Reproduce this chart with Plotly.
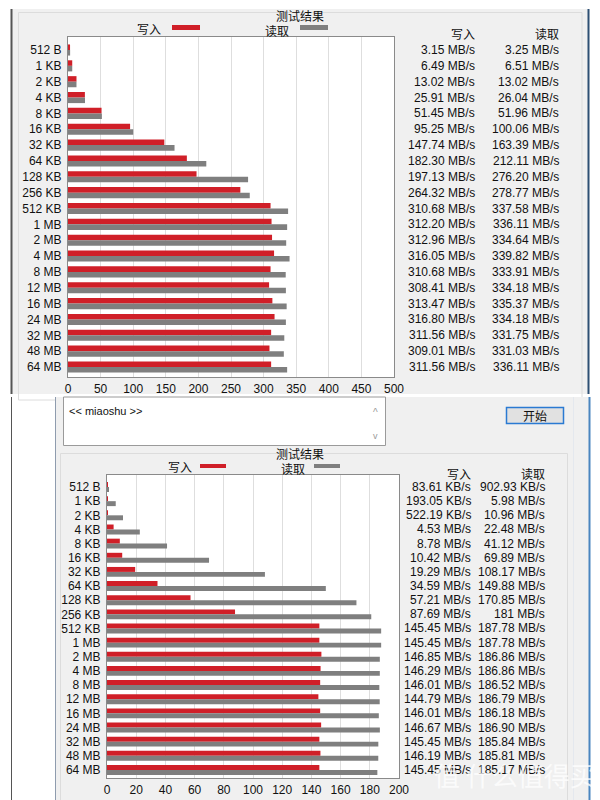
import plotly.graph_objects as go

# ---------------- data ----------------
sizes = ["512 B", "1 KB", "2 KB", "4 KB", "8 KB", "16 KB", "32 KB", "64 KB", "128 KB", "256 KB",
         "512 KB", "1 MB", "2 MB", "4 MB", "8 MB", "12 MB", "16 MB", "24 MB", "32 MB", "48 MB", "64 MB"]

# top test (MB/s)
top_write = [3.15, 6.49, 13.02, 25.91, 51.45, 95.25, 147.74, 182.30, 197.13, 264.32,
             310.68, 312.20, 312.96, 316.05, 310.68, 308.41, 313.47, 316.80, 311.56, 309.01, 311.56]
top_read = [3.25, 6.51, 13.02, 26.04, 51.96, 100.06, 163.39, 212.11, 276.20, 278.77,
            337.58, 336.11, 334.64, 339.82, 333.91, 334.18, 335.37, 334.18, 331.75, 331.03, 336.11]

# bottom test (MB/s)
bot_write = [0.082, 0.189, 0.510, 4.53, 8.78, 10.42, 19.29, 34.59, 57.21, 87.69,
             145.45, 145.45, 146.85, 146.29, 146.01, 144.79, 146.01, 146.67, 145.45, 146.19, 145.45]
bot_read = [0.882, 5.98, 10.96, 22.48, 41.12, 69.89, 108.17, 149.88, 170.85, 181.00,
            187.78, 187.78, 186.86, 186.86, 186.52, 186.79, 186.18, 186.90, 185.84, 185.81, 185.17]

bot_write_labels = ["83.61 KB/s", "193.05 KB/s", "522.19 KB/s", "4.53 MB/s", "8.78 MB/s", "10.42 MB/s",
                    "19.29 MB/s", "34.59 MB/s", "57.21 MB/s", "87.69 MB/s", "145.45 MB/s", "145.45 MB/s",
                    "146.85 MB/s", "146.29 MB/s", "146.01 MB/s", "144.79 MB/s", "146.01 MB/s", "146.67 MB/s",
                    "145.45 MB/s", "146.19 MB/s", "145.45 MB/s"]
bot_read_labels = ["902.93 KB/s", "5.98 MB/s", "10.96 MB/s", "22.48 MB/s", "41.12 MB/s", "69.89 MB/s",
                   "108.17 MB/s", "149.88 MB/s", "170.85 MB/s", "181 MB/s", "187.78 MB/s", "187.78 MB/s",
                   "186.86 MB/s", "186.86 MB/s", "186.52 MB/s", "186.79 MB/s", "186.18 MB/s", "186.90 MB/s",
                   "185.84 MB/s", "185.81 MB/s", "185.17 MB/s"]

# ---------------- styling ----------------
W, H = 600, 800
RED = "#d01f28"
GREY = "#7f7f7f"
PANEL = "#f0f0f0"
FONT = "Liberation Sans"
CJK = "Noto Sans CJK SC"


def px(x):
    return x / W


def py(y):
    return 1 - y / H


fig = go.Figure()
fig.add_bar(y=sizes, x=top_write, orientation="h", marker=dict(color=RED, line=dict(width=0)),
            xaxis="x", yaxis="y", name="写入", hoverinfo="x+y")
fig.add_bar(y=sizes, x=top_read, orientation="h", marker=dict(color=GREY, line=dict(width=0)),
            xaxis="x", yaxis="y", name="读取", hoverinfo="x+y")
fig.add_bar(y=sizes, x=bot_write, orientation="h", marker=dict(color=RED, line=dict(width=0)),
            xaxis="x2", yaxis="y2", name="写入", hoverinfo="x+y")
fig.add_bar(y=sizes, x=bot_read, orientation="h", marker=dict(color=GREY, line=dict(width=0)),
            xaxis="x2", yaxis="y2", name="读取", hoverinfo="x+y")

axis_common = dict(showline=True, mirror=True, linecolor="#8a8a8a", linewidth=1, zeroline=False,
                   automargin=False,
                   tickfont=dict(family=FONT, size=12, color="#111"), fixedrange=True)

fig.update_layout(
    width=W, height=H, margin=dict(l=0, r=0, t=0, b=0, autoexpand=False),
    paper_bgcolor="white", plot_bgcolor="white", showlegend=False,
    barmode="group", bargap=0.3, bargroupgap=0,
    xaxis=dict(domain=[px(68), px(394)], range=[0, 500], dtick=50, showgrid=True, gridcolor="#dedede",
               anchor="y", ticks="outside", ticklen=1, tickcolor="rgba(0,0,0,0)", **axis_common),
    yaxis=dict(domain=[py(377), py(37)], type="category", range=[20.63, -0.82], showgrid=False,
               anchor="x", ticks="outside", ticklen=3, tickcolor="rgba(0,0,0,0)", **axis_common),
    xaxis2=dict(domain=[px(107), px(399)], range=[0, 200], dtick=20, showgrid=True, gridcolor="#dedede",
                anchor="y2", ticks="outside", ticklen=1, tickcolor="rgba(0,0,0,0)", **axis_common),
    yaxis2=dict(domain=[py(778), py(475)], type="category", range=[20.57, -0.85], showgrid=False,
                anchor="x2", ticks="outside", ticklen=3, tickcolor="rgba(0,0,0,0)", **axis_common),
)

shapes = []


def rect(x0, y0, x1, y1, fill, line_color=None, lw=0, layer="below"):
    shapes.append(dict(type="rect", xref="paper", yref="paper", x0=px(x0), x1=px(x1), y0=py(y1), y1=py(y0),
                       fillcolor=fill, line=dict(color=line_color or "rgba(0,0,0,0)", width=lw), layer=layer))


def vline(x, y0, y1, color, lw=1):
    shapes.append(dict(type="line", xref="paper", yref="paper", x0=px(x), x1=px(x), y0=py(y1), y1=py(y0),
                       line=dict(color=color, width=lw), layer="below"))


# top window panel
rect(12, 9, 588, 394, PANEL)
vline(11.5, 9, 394, "#555555", 2)
vline(588.5, 9, 394, "#2d4f73", 2)
rect(18.5, 12.5, 582, 400, "rgba(0,0,0,0)", "#dcdcdc", 1)
# bottom window panel
rect(55, 397, 590, 800, PANEL)
vline(11.5, 397, 800, "#555555", 1)
vline(55.5, 397, 800, "#8f9cae", 1)
vline(573.5, 397, 800, "#e4e8ee", 1)
vline(589.5, 397, 800, "#4a86c0", 2)
# text box
rect(63.5, 397, 385.5, 445.5, "white", "#9a9a9a", 1)
# button
rect(506.5, 407.5, 563.5, 423.5, "#e1e1e1", "#2a7ad2", 1.5)
# bottom group box
rect(60.5, 453.5, 567.5, 805, "rgba(0,0,0,0)", "#dcdcdc", 1)
# white plot areas
rect(68, 37, 394, 377, "white")
rect(107, 475, 399, 778, "white")
# legend swatches
rect(172, 25, 200, 30, RED, layer="above")
rect(300, 25, 328, 30, GREY, layer="above")
rect(200, 464, 226, 468, RED, layer="above")
rect(314, 464, 340, 468, GREY, layer="above")
fig.update_layout(shapes=shapes)

ann = []


def txt(x, y, t, size=12, family=FONT, anchor="center", color="#111", yanchor="middle"):
    ann.append(dict(x=px(x), y=py(y), xref="paper", yref="paper", text=t, showarrow=False,
                    xanchor=anchor, yanchor=yanchor, font=dict(family=family, size=size, color=color)))


# top headings / legend
txt(300, 15, "测试结果", family=CJK)
txt(149, 28, "写入", family=CJK)
txt(277, 31, "读取", family=CJK)
txt(477, 33, "写入", family=CJK, anchor="right")
txt(561, 33, "读取", family=CJK, anchor="right")
# bottom headings / legend
txt(300, 453, "测试结果", family=CJK)
txt(180, 466, "写入", family=CJK)
txt(293, 468, "读取", family=CJK)
txt(473, 473, "写入", family=CJK, anchor="right")
txt(547, 473, "读取", family=CJK, anchor="right")
txt(67, 411, "&lt;&lt; miaoshu &gt;&gt;", size=11, anchor="left")
txt(375, 412, "^", size=10, color="#9a9a9a")
txt(375, 436, "v", size=9, color="#9a9a9a")
txt(535, 415, "开始", family=CJK)

# value columns
for i, s in enumerate(sizes):
    ann.append(dict(x=px(477), xref="paper", y=s, yref="y", text=f"{top_write[i]:.2f} MB/s", showarrow=False,
                    xanchor="right", font=dict(family=FONT, size=12, color="#111")))
    ann.append(dict(x=px(561), xref="paper", y=s, yref="y", text=f"{top_read[i]:.2f} MB/s", showarrow=False,
                    xanchor="right", font=dict(family=FONT, size=12, color="#111")))
    ann.append(dict(x=px(473), xref="paper", y=s, yref="y2", text=bot_write_labels[i], showarrow=False,
                    xanchor="right", font=dict(family=FONT, size=12, color="#111")))
    ann.append(dict(x=px(547), xref="paper", y=s, yref="y2", text=bot_read_labels[i], showarrow=False,
                    xanchor="right", font=dict(family=FONT, size=12, color="#111")))

# watermark
txt(515, 774, "值 什么值得买", size=26, family=CJK, color="rgba(255,255,255,0.75)")

fig.update_layout(annotations=ann)
fig.write_html("out.html", config={"displayModeBar": False},
               post_script="document.body.style.margin='0px';")
